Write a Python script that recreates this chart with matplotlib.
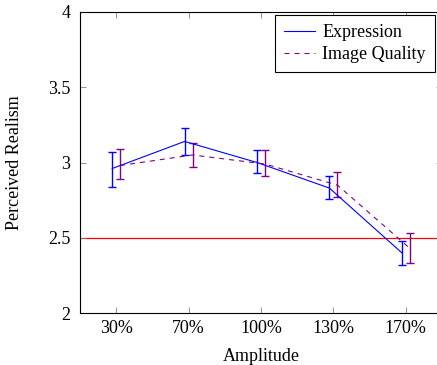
import matplotlib
matplotlib.use("Agg")
import matplotlib.pyplot as plt
from matplotlib.lines import Line2D
import numpy as np

categories = ["30%", "70%", "100%", "130%", "170%"]
expr_mean = [2.96, 3.14, 3.00, 2.83, 2.40]
expr_lo = [2.84, 3.05, 2.93, 2.76, 2.32]
expr_hi = [3.07, 3.23, 3.08, 2.91, 2.48]
iq_mean = [2.98, 3.05, 2.99, 2.85, 2.43]
iq_lo = [2.89, 2.97, 2.91, 2.77, 2.33]
iq_hi = [3.09, 3.13, 3.08, 2.94, 2.53]
baseline = 2.5
yticks = [2, 2.5, 3, 3.5, 4]
ytick_labels = ["2", "2.5", "3", "3.5", "4"]

plt.rcParams['font.family'] = ['Liberation Serif', 'DejaVu Serif']

fig = plt.figure(figsize=(4.37, 3.65), dpi=100)
ax = fig.add_axes([80/437, 52/365, (442-80)/437, (313-12)/365])

x = np.arange(len(categories))
off = 0.055
blue = '#0000ff'
purple = '#800080'
dash = (0, (4.5, 4.5))

e1 = np.array(expr_mean)
ax.errorbar(x - off, e1, yerr=[e1 - np.array(expr_lo), np.array(expr_hi) - e1],
            color=blue, lw=0.8, elinewidth=1.0, capsize=2.6, capthick=1.0)
e2 = np.array(iq_mean)
ax.errorbar(x + off, e2, yerr=[e2 - np.array(iq_lo), np.array(iq_hi) - e2],
            color=purple, lw=0.8, elinewidth=1.0, capsize=2.6, capthick=1.0,
            ls=dash)
ax.axhline(baseline, color='#ff0000', lw=0.9, zorder=1)

ax.set_xlim(-0.5, 4.5)
ax.set_ylim(2, 4)
ax.set_xticks(x)
ax.set_xticklabels(categories)
ax.set_yticks(yticks)
ax.set_yticklabels(ytick_labels)
ax.tick_params(direction='in', length=4, width=0.6, color='#808080',
               labelsize=13, top=True, right=True)
ax.tick_params(axis='y', pad=7)
ax.tick_params(axis='x', pad=5)
for s in ax.spines.values():
    s.set_linewidth(0.8)
ax.set_xlabel('Amplitude', fontsize=13, labelpad=8)
ax.set_ylabel('Perceived Realism', fontsize=13, labelpad=18)

handles = [Line2D([], [], color=blue, lw=0.8),
           Line2D([], [], color=purple, lw=0.8, ls=dash)]
leg = fig.legend(handles, ['Expression', 'Image Quality'],
                 loc='upper right', bbox_to_anchor=(435/437, (365-15)/365),
                 bbox_transform=fig.transFigure,
                 fontsize=13, frameon=True, fancybox=False, framealpha=1,
                 edgecolor='black', handlelength=1.75, borderpad=0.5,
                 labelspacing=0.3, handletextpad=0.4, borderaxespad=0)
leg.get_frame().set_linewidth(0.8)

fig.savefig('out.png', dpi=100)
